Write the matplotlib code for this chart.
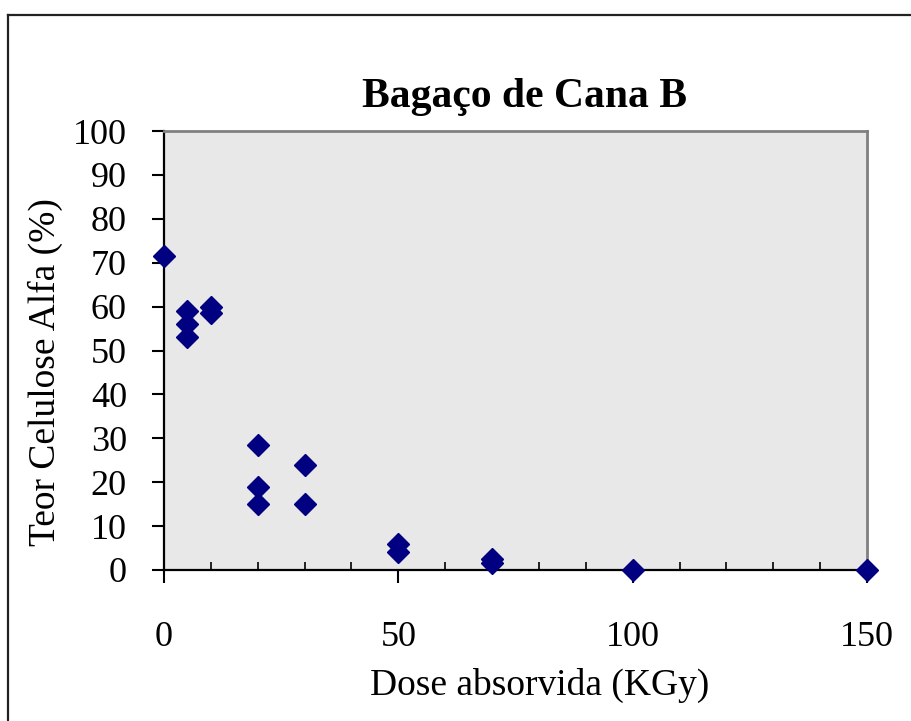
import matplotlib
matplotlib.use("Agg")
import matplotlib.pyplot as plt
from matplotlib.lines import Line2D
from matplotlib.ticker import MultipleLocator

# Absorbed dose (kGy) and alpha-cellulose content (%) for sugarcane bagasse B
dose = [0, 5, 5, 5, 10, 10, 20, 20, 20, 30, 30, 50, 50, 70, 70, 100, 150]
alpha_cellulose = [71.5, 59, 56, 53, 60, 58.5, 28.5, 19, 15, 24, 15, 6, 4, 2.5, 1.5, 0, 0]

title = "Bagaço de Cana B"
x_label = "Dose absorvida (KGy)"
y_label = "Teor Celulose Alfa (%)"
x_ticks = [0, 50, 100, 150]
y_ticks = list(range(0, 101, 10))

W, H, DPI = 912, 721, 100
PT = 72 / DPI  # points per pixel
fig = plt.figure(figsize=(W / DPI, H / DPI), dpi=DPI)
fig.patch.set_facecolor("white")

# chart frame (top and left edges)
fig.add_artist(Line2D([8 / W, 8 / W], [0, 1 - 15 / H], color="#222222", lw=1.6,
                      transform=fig.transFigure))
fig.add_artist(Line2D([8 / W, 1], [1 - 15 / H, 1 - 15 / H], color="#222222", lw=1.6,
                      transform=fig.transFigure))

left, right, bottom, top = 164 / W, 867 / W, 1 - 570 / H, 1 - 131 / H
ax = fig.add_axes([left, bottom, right - left, top - bottom])
ax.set_facecolor("#e8e8e8")

ax.plot(dose, alpha_cellulose, linestyle="none", marker="D", markersize=11,
        color="#000080", markeredgecolor="#000080", clip_on=False, zorder=5)

ax.set_xlim(0, 150)
ax.set_ylim(0, 100)
ax.set_xticks(x_ticks)
ax.set_yticks(y_ticks)
ax.xaxis.set_minor_locator(MultipleLocator(10))

serif = "Liberation Serif"
ax.set_xticklabels([str(v) for v in x_ticks], fontfamily=serif, fontsize=26)
ax.set_yticklabels([str(v) for v in y_ticks], fontfamily=serif, fontsize=26)

ax.tick_params(axis="x", which="major", direction="out", length=13 * PT, width=1.5,
               pad=38 * PT, color="black")
ax.tick_params(axis="x", which="minor", direction="in", length=8 * PT, width=1.2,
               color="black")
ax.tick_params(axis="y", which="major", direction="out", length=12 * PT, width=1.5,
               pad=25 * PT, color="black")

for side in ("left", "bottom"):
    ax.spines[side].set_color("black")
    ax.spines[side].set_linewidth(1.6)
for side in ("top", "right"):
    ax.spines[side].set_color("#808080")
    ax.spines[side].set_linewidth(2)

fig.text(524 / W, 1 - 97 / H, title, fontfamily=serif, fontweight="bold",
         fontsize=30, ha="center", va="center")
fig.text(540 / W, 1 - 685 / H, x_label, fontfamily=serif, fontsize=27,
         ha="center", va="center")
fig.text(45 / W, 1 - 372 / H, y_label, fontfamily=serif, fontsize=27,
         ha="center", va="center", rotation=90)

fig.savefig("out.png", dpi=DPI)
